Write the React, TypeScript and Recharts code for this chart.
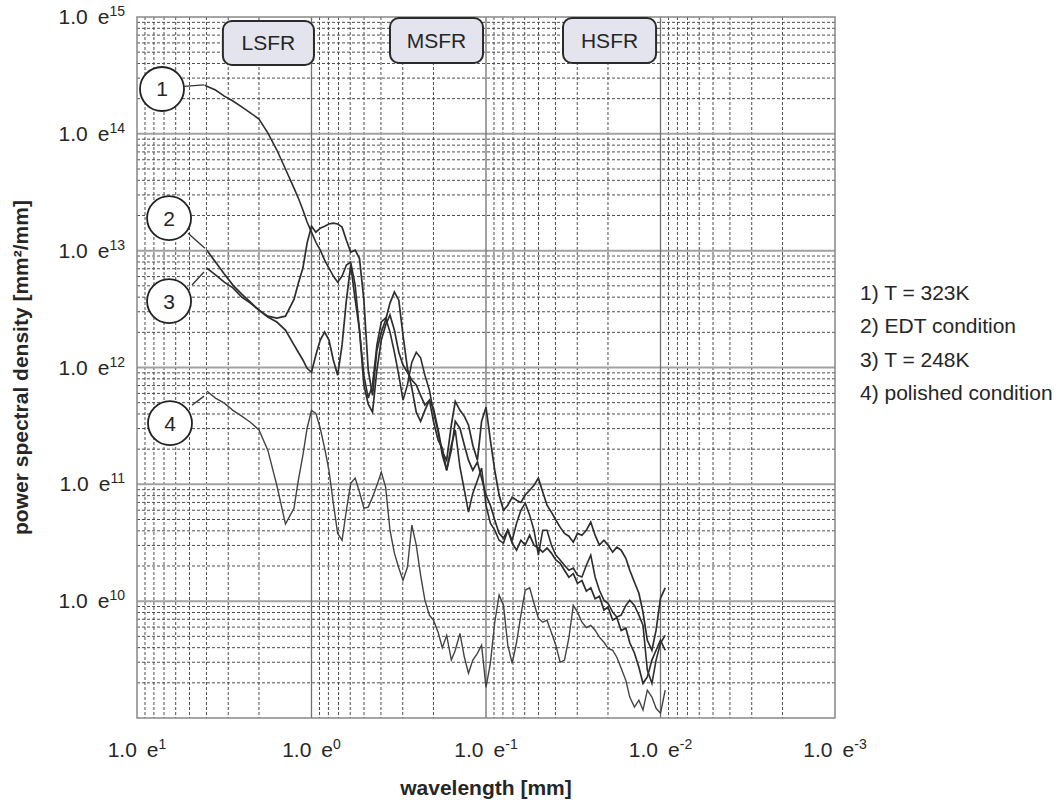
import React from 'react';
import {
    LineChart,
    Line,
    XAxis,
    YAxis,
    CartesianGrid,
    ReferenceArea,
    ReferenceLine,
    ReferenceDot,
    Legend,
} from 'recharts';

// wavelength [mm], shared sampling for the four traces
const WAVELENGTH = [
    4.1, 3.98, 3.55, 3.16, 2.82, 2.51, 2.24, 2.0, 1.78, 1.58, 1.41, 1.26, 1.19, 1.12, 1.06, 1.0,
    0.944, 0.891, 0.841, 0.794, 0.75, 0.708, 0.668, 0.631, 0.596, 0.562, 0.531, 0.501, 0.473, 0.447,
    0.422, 0.398, 0.376, 0.355, 0.335, 0.316, 0.299, 0.282, 0.266, 0.251, 0.237, 0.224, 0.211, 0.2,
    0.188, 0.178, 0.168, 0.158, 0.15, 0.141, 0.133, 0.126, 0.119, 0.112, 0.106, 0.1,
    0.0944, 0.0891, 0.0841, 0.0794, 0.075, 0.0708, 0.0668, 0.0631, 0.0596, 0.0562, 0.0531, 0.0501,
    0.0473, 0.0447, 0.0422, 0.0398, 0.0376, 0.0355, 0.0335, 0.0316, 0.0299, 0.0282, 0.0266, 0.0251,
    0.0237, 0.0224, 0.0211, 0.02, 0.0188, 0.0178, 0.0168, 0.0158, 0.015, 0.0141, 0.0133, 0.0126,
    0.0119, 0.0112, 0.0106, 0.01, 0.0094,
];

// power spectral density [mm²/mm]
const PSD_323K = [
    2.62e14, 2.55e14, 2.37e14, 2.1e14, 1.91e14, 1.7e14, 1.51e14, 1.34e14, 1.02e14, 7.27e13, 5.0e13,
    3.43e13, 2.82e13, 2.23e13, 1.76e13, 1.44e13,
    1.18e13, 1.01e13, 8.3e12, 7.1e12, 6.06e12, 5.38e12, 6.06e12, 7.53e12, 7.99e12, 5.07e12, 2.09e12,
    8.6e11, 5.47e11, 7.1e11, 1.56e12, 2.45e12, 2.65e12, 2.01e12, 1.35e12, 8.6e11, 5.25e11, 7.1e11,
    1.11e12, 1.35e12, 1.21e12, 8.6e11, 6.4e11, 4.15e11, 2.8e11, 1.78e11, 1.32e11, 2.16e11, 2.92e11,
    1.4e11, 8.9e10, 5.78e10, 8.4e10, 1.08e11, 1.38e11, 6.63e10,
    4.65e10, 4.05e10, 3.32e10, 3.14e10, 4.05e10, 3.32e10, 4.65e10, 6.0e10, 6.9e10, 5.45e10, 4.05e10,
    2.48e10, 4.05e10, 4.05e10, 3.02e10, 2.48e10, 2.25e10, 2.03e10, 1.84e10, 1.92e10, 1.67e10,
    1.61e10, 2.03e10, 2.48e10, 1.61e10, 1.24e10, 1.02e10, 9.6e9, 8.05e9, 7.3e9, 7.6e9, 9.2e9,
    1.02e10, 9.2e9, 7.6e9, 6.22e9, 2.57e9, 1.98e9, 3.13e9, 4.37e9, 5.1e9,
];

const PSD_EDT = [
    null, 1.01e13, 7.99e12, 6.3e12, 5.07e12, 4.25e12, 3.62e12, 3.1e12, 2.75e12, 2.65e12, 2.75e12,
    3.83e12, 5.27e12, 7.1e12, 1.16e13, 1.62e13,
    1.44e13, 1.56e13, 1.62e13, 1.69e13, 1.72e13, 1.69e13, 1.59e13, 1.23e13, 9.7e12, 1.01e13, 8.6e12,
    3.77e12, 9.47e11, 5.78e11, 1.4e12, 2.01e12, 2.55e12, 3.56e12, 4.42e12, 3.77e12, 1.89e12, 9.85e11,
    6.65e11, 4.15e11, 3.46e11, 4.3e11, 5.25e11, 4.48e11, 2.92e11, 1.89e11, 1.61e11, 3.22e11, 5.13e11,
    4.3e11, 3.82e11, 3.22e11, 2.16e11, 1.61e11, 3.46e11, 4.57e11,
    2.39e11, 1.32e11, 8.1e10, 6.0e10, 6.63e10, 7.77e10, 7.3e10, 7.0e10, 8.1e10, 8.9e10, 9.8e10,
    1.13e11, 8.6e10, 6.63e10, 5.78e10, 4.95e10, 4.3e10, 3.8e10, 3.6e10, 3.2e10, 3.8e10, 3.67e10,
    4.05e10, 4.75e10, 3.67e10, 3.02e10, 3.32e10, 3.02e10, 2.63e10, 2.9e10, 2.73e10, 2.33e10,
    1.84e10, 1.45e10, 1.17e10, 8.05e9, 4.63e9, 3.8e9, 5.64e9, 1.06e10, 1.3e10,
];

const PSD_248K = [
    null, 7.1e12, 6.2e12, 5.38e12, 4.8e12, 4.0e12, 3.56e12, 3.1e12, 2.7e12, 2.45e12, 2.09e12,
    1.56e12, 1.35e12, 1.16e12, 9.85e11, 9.1e11,
    1.28e12, 1.72e12, 2.01e12, 1.72e12, 1.16e12, 8.6e11, 1.56e12, 3.77e12, 7.53e12, 3.83e12, 2.09e12,
    7.1e11, 4.85e11, 4.15e11, 9.47e11, 1.72e12, 2.31e12, 2.81e12, 2.09e12, 1.35e12, 1.05e12, 9.1e11,
    7.8e11, 7.1e11, 5.78e11, 4.77e11, 5.25e11, 3.46e11, 2.39e11, 2.04e11, 1.32e11, 1.96e11, 3.46e11,
    3.02e11, 2.16e11, 1.61e11, 1.32e11, 1.55e11, 1.13e11, 8.1e10,
    6.63e10, 4.95e10, 3.8e10, 3.46e10, 4.05e10, 3.14e10, 2.73e10, 3.32e10, 3.02e10, 3.67e10, 3.02e10,
    2.85e10, 2.63e10, 2.85e10, 2.58e10, 2.25e10, 2.11e10, 1.84e10, 1.6e10, 1.72e10, 1.42e10, 1.5e10,
    1.22e10, 1.3e10, 1.05e10, 1.1e10, 8.4e9, 8.9e9, 6.9e9, 7.2e9, 5.6e9, 5.9e9, 4.4e9, 3.6e9,
    2.72e9, 1.98e9, 2.25e9, 3.13e9, 3.8e9, 4.63e9, 3.8e9,
];

const PSD_POLISHED = [
    null, 6.3e11, 5.47e11, 4.95e11, 4.3e11, 3.83e11, 3.4e11, 2.92e11, 1.96e11, 9.8e10, 4.57e10,
    6.25e10, 1.08e11, 1.78e11, 3.02e11, 4.3e11,
    4.05e11, 3.02e11, 2.04e11, 1.32e11, 6.9e10, 3.8e10, 3.32e10, 6.0e10, 1.02e11, 1.13e11, 8.6e10,
    6.25e10, 6.38e10, 7.77e10, 9.8e10, 1.27e11, 9.46e10, 4.05e10, 2.58e10, 1.92e10, 1.51e10, 1.95e10,
    4.47e10, 3.02e10, 1.67e10, 1.02e10, 7.6e9, 6.87e9, 5.4e9, 4.0e9, 5.1e9, 3.13e9, 3.8e9, 5.3e9,
    3.31e9, 2.42e9, 3.13e9, 3.58e9, 4.2e9, 1.83e9,
    2.94e9, 6.6e9, 1.13e10, 9.2e9, 4.2e9, 2.94e9, 4.45e9, 7.6e9, 1.24e10, 1.3e10, 9.6e9, 7.15e9,
    6.6e9, 6.87e9, 5.4e9, 4.2e9, 3.0e9, 3.13e9, 4.85e9, 9.2e9, 8.05e9, 6.6e9, 5.95e9, 6.2e9, 5.64e9,
    4.92e9, 4.45e9, 3.96e9, 3.8e9, 3.31e9, 2.67e9, 2.1e9, 1.51e9, 1.24e9, 1.42e9, 1.17e9, 1.73e9,
    1.51e9, 1.21e9, 1.1e9, 1.73e9,
];

const SERIES = [
    { key: 'c1', name: '1) T = 323K', values: PSD_323K, color: '#2e2e2e', width: 1.6 },
    { key: 'c2', name: '2) EDT condition', values: PSD_EDT, color: '#2e2e2e', width: 1.7 },
    { key: 'c3', name: '3) T = 248K', values: PSD_248K, color: '#2e2e2e', width: 1.7 },
    { key: 'c4', name: '4) polished condition', values: PSD_POLISHED, color: '#444', width: 1.4 },
];

const X_TICKS = [10, 1, 0.1, 0.01, 0.001];
const Y_TICKS = [1e10, 1e11, 1e12, 1e13, 1e14, 1e15];
const X_MAJOR = [1, 0.1, 0.01];
const Y_MAJOR = [1e10, 1e11, 1e12, 1e13, 1e14];
const STEPS = [2, 3, 4, 5, 6, 7, 8, 9];
const X_MINOR = [0.001, 0.01, 0.1, 1].flatMap((d) => STEPS.map((s) => d * s));
const Y_MINOR = [1e9, 1e10, 1e11, 1e12, 1e13, 1e14].flatMap((d) => STEPS.map((s) => d * s));

// spatial frequency ranges drawn as labelled boxes
const BANDS = [
    { label: 'LSFR', x1: 3.22, x2: 0.968, y1: 3.88e14, y2: 9.24e14 },
    { label: 'MSFR', x1: 0.355, x2: 0.104, y1: 4.04e14, y2: 9.8e14 },
    { label: 'HSFR', x1: 0.0362, x2: 0.0106, y1: 4.04e14, y2: 9.8e14 },
];

// numbered callouts with their leader lines
const CALLOUTS = [
    { n: '1', x: 7.19, y: 2.42e14, from: { x: 5.38, y: 2.55e14 }, to: { x: 4.13, y: 2.62e14 } },
    { n: '2', x: 6.55, y: 1.9e13, from: { x: 5.1, y: 1.41e13 }, to: { x: 4.08, y: 1.05e13 } },
    { n: '3', x: 6.55, y: 3.7e12, from: { x: 4.84, y: 5.08e12 }, to: { x: 4.13, y: 6.56e12 } },
    { n: '4', x: 6.47, y: 3.34e11, from: { x: 4.84, y: 4.76e11 }, to: { x: 4.13, y: 5.69e11 } },
];

const rows = WAVELENGTH.map((wl, i) => {
    const row: any = { wl };
    SERIES.forEach((s) => {
        row[s.key] = s.values[i];
    });
    return row;
});

const INK = '#262626';
const expOf = (v: number) => Math.round(Math.log10(v));

function TickText({ x, y, anchor, value }: any) {
    return (
        <text x={x} y={y} textAnchor={anchor} fontSize={21} fill={INK}>
            {'1.0'}
            <tspan dx={10}>e</tspan>
            <tspan dy={-8} fontSize={14}>{expOf(value)}</tspan>
        </text>
    );
}

function XTick({ x, y, payload }: any) {
    return <TickText x={x} y={y + 39} anchor="middle" value={payload.value} />;
}

function YTick({ x, y, payload }: any) {
    return <TickText x={x} y={y + 7} anchor="end" value={payload.value} />;
}

function XTitle({ viewBox }: any) {
    return (
        <text x={viewBox.x + viewBox.width / 2} y={viewBox.y + 77} textAnchor="middle" fontSize={21} fontWeight="bold" fill={INK}>
            wavelength [mm]
        </text>
    );
}

function YTitle({ viewBox }: any) {
    const cx = 28;
    const cy = viewBox.y + viewBox.height / 2;
    return (
        <text x={cx} y={cy} transform={`rotate(-90, ${cx}, ${cy})`} textAnchor="middle" fontSize={21} fontWeight="bold" fill={INK}>
            power spectral density [mm²/mm]
        </text>
    );
}

function RoundBox(p: any) {
    return <rect x={p.x} y={p.y} width={p.width} height={p.height} rx={9} ry={9} fill="#e4e4ee" stroke="#2a2a2a" strokeWidth={2} />;
}

function LegendList({ payload }: any) {
    return (
        <div style={{ fontSize: 21, lineHeight: '33.3px', color: INK, whiteSpace: 'nowrap' }}>
            {(payload || []).map((p: any) => (
                <div key={p.value}>{p.value}</div>
            ))}
        </div>
    );
}

export default function App() {
    return (
        <div
            style={{
                position: 'absolute',
                left: 0,
                top: 0,
                width: 1064,
                height: 800,
                background: '#fff',
                fontFamily: '"Liberation Sans", Arial, sans-serif',
            }}
        >
            <LineChart width={1064} height={800} data={rows} margin={{ top: 17, right: 229, bottom: 30, left: 0 }}>
                <CartesianGrid verticalValues={X_MINOR} horizontalValues={Y_MINOR} stroke="#4e4e4e" strokeDasharray="3 2" />
                <CartesianGrid vertical={false} horizontalValues={Y_MAJOR} stroke="#a2a2a2" strokeWidth={2} />
                <CartesianGrid horizontal={false} verticalValues={X_MAJOR} stroke="#707070" strokeWidth={1.3} />

                <XAxis
                    dataKey="wl"
                    type="number"
                    scale="log"
                    domain={[0.001, 10]}
                    reversed
                    allowDataOverflow
                    ticks={X_TICKS}
                    interval={0}
                    tick={<XTick />}
                    tickLine={false}
                    axisLine={false}
                    tickSize={0}
                    tickMargin={0}
                    height={52}
                    label={XTitle}
                />
                <YAxis
                    type="number"
                    scale="log"
                    domain={[1e9, 1e15]}
                    allowDataOverflow
                    ticks={Y_TICKS}
                    interval={0}
                    tick={<YTick />}
                    tickLine={false}
                    axisLine={false}
                    tickSize={0}
                    tickMargin={12}
                    width={137}
                    label={YTitle}
                />

                <ReferenceArea x1={10} x2={0.001} y1={1e9} y2={1e15} fill="none" stroke="#888" strokeWidth={1.5} ifOverflow="visible" />

                {SERIES.map((s) => (
                    <Line
                        key={s.key}
                        dataKey={s.key}
                        name={s.name}
                        type="linear"
                        stroke={s.color}
                        strokeWidth={s.width}
                        dot={false}
                        activeDot={false}
                        isAnimationActive={false}
                    />
                ))}

                {BANDS.map((b) => (
                    <ReferenceArea
                        key={b.label}
                        x1={b.x1}
                        x2={b.x2}
                        y1={b.y1}
                        y2={b.y2}
                        shape={RoundBox}
                        ifOverflow="visible"
                        label={{ value: b.label, position: 'center', fontSize: 21, fill: INK }}
                    />
                ))}

                {CALLOUTS.map((c) => (
                    <ReferenceLine
                        key={'leader' + c.n}
                        segment={[c.from, c.to]}
                        stroke="#333"
                        strokeWidth={1.3}
                        ifOverflow="visible"
                    />
                ))}
                {CALLOUTS.map((c) => (
                    <ReferenceDot
                        key={'dot' + c.n}
                        x={c.x}
                        y={c.y}
                        r={22}
                        fill="#fff"
                        stroke="#222"
                        strokeWidth={1.8}
                        ifOverflow="visible"
                        label={{ value: c.n, position: 'center', fontSize: 21, fill: INK }}
                    />
                ))}

                <Legend
                    layout="vertical"
                    align="center"
                    verticalAlign="middle"
                    content={LegendList}
                    wrapperStyle={{ left: 860, top: 276, width: 204 }}
                />
            </LineChart>
        </div>
    );
}
